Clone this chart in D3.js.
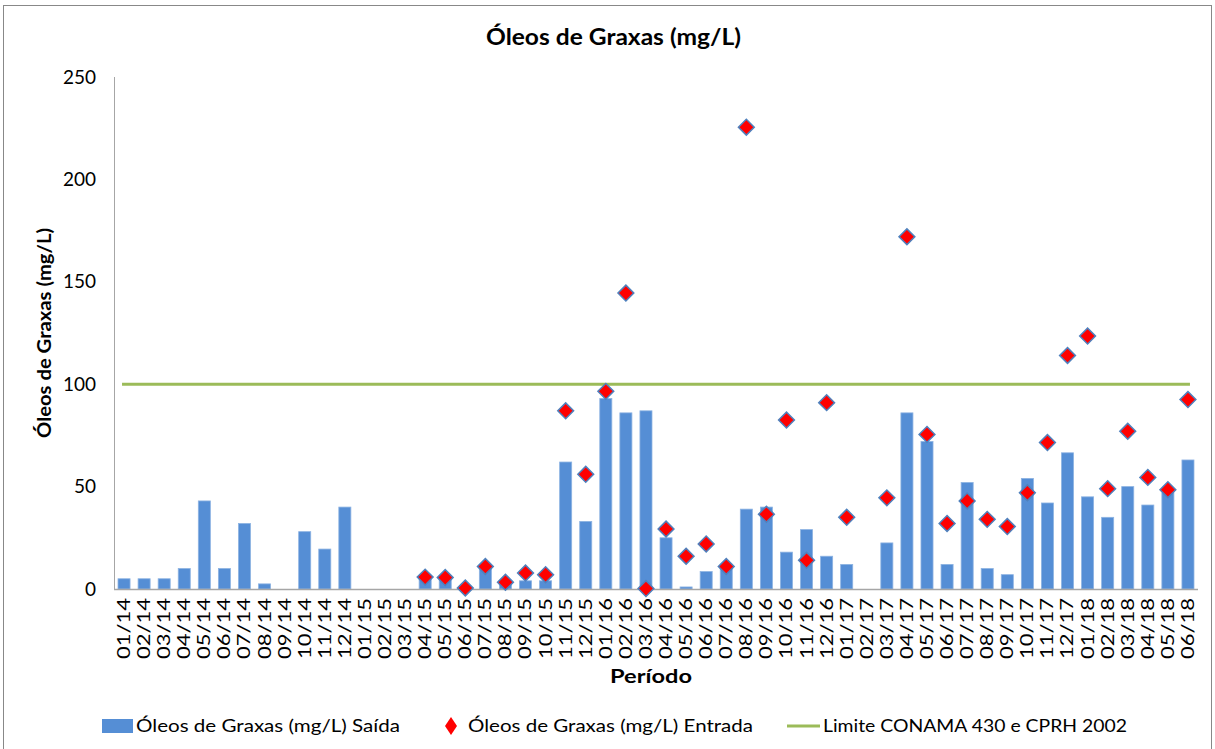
<!DOCTYPE html>
<meta charset="utf-8">
<script src="https://d3js.org/d3.v7.min.js"></script>
<style>
    body { margin: 0; background: #fff; font-family: Lato, "Liberation Sans", sans-serif; }
    svg text { fill: #000; }
</style>
<div id="viz_area"></div>
<script>
    // períodos (mês/ano)
    var periodos = ["01/14","02/14","03/14","04/14","05/14","06/14","07/14","08/14","09/14","10/14","11/14","12/14",
        "01/15","02/15","03/15","04/15","05/15","06/15","07/15","08/15","09/15","10/15","11/15","12/15",
        "01/16","02/16","03/16","04/16","05/16","06/16","07/16","08/16","09/16","10/16","11/16","12/16",
        "01/17","02/17","03/17","04/17","05/17","06/17","07/17","08/17","09/17","10/17","11/17","12/17",
        "01/18","02/18","03/18","04/18","05/18","06/18"]

    var saida = [5, 5, 5, 10, 43, 10, 32, 2.5, null, 28, 19.5, 40,
        null, null, null, 5, 5, null, 10, 2, 4, 4, 62, 33,
        93, 86, 87, 25, 1, 8.5, 10, 39, 40, 18, 29, 16,
        12, null, 22.5, 86, 72, 12, 52, 10, 7, 54, 42, 66.5,
        45, 35, 50, 41, 47, 63]

    var entrada = [null, null, null, null, null, null, null, null, null, null, null, null,
        null, null, null, 5.8, 5.6, 0.5, 11, 3.3, 7.8, 7, 87, 56,
        96.5, 144.5, 0.2, 29.3, 16, 22, 11, 225.5, 36.5, 82.5, 14, 91,
        35, null, 44.5, 172, 75.5, 32, 43, 34, 30.5, 47, 71.5, 114,
        123.5, 49, 77, 54.5, 48.5, 92.5]

    var limite = 100
    var yTicks = [0, 50, 100, 150, 200, 250]

    var W = 1215, H = 749
    var svg = d3.select("#viz_area").append("svg")
        .attr("width", W)
        .attr("height", H)

    // moldura do gráfico
    svg.append("rect")
        .attr("x", 3.5).attr("y", 5.5)
        .attr("width", 1208).attr("height", 760)
        .attr("fill", "none")
        .attr("stroke", "#888")
        .attr("stroke-width", 1)

    var x = d3.scaleBand()
        .domain(periodos)
        .range([114, 1198])
        .paddingInner(0.4)
        .paddingOuter(0.2)

    var y = d3.scaleLinear()
        .domain([0, 250])
        .range([589, 77])

    // eixo y
    svg.append("line")
        .attr("x1", 114.5).attr("x2", 114.5)
        .attr("y1", y(250)).attr("y2", y(0))
        .attr("stroke", "#a6a6a6")

    svg.append("g")
        .attr("transform", "translate(114,0)")
        .call(d3.axisLeft(y).tickValues(yTicks).tickSize(0).tickPadding(18))
        .call(function(g) { g.select(".domain").remove() })
        .selectAll("text")
        .attr("font-family", "Lato, sans-serif")
        .attr("font-size", "19px")
        .attr("fill", "#000")

    // barras (saída)
    svg.append("g").selectAll("rect")
        .data(periodos.map(function(p, i) { return {p: p, v: saida[i]} })
            .filter(function(d) { return d.v != null }))
        .enter().append("rect")
        .attr("x", function(d) { return x(d.p) })
        .attr("width", x.bandwidth())
        .attr("y", function(d) { return y(d.v) })
        .attr("height", function(d) { return y(0) - y(d.v) })
        .attr("fill", "#558ed5")
        .attr("stroke", "#8db3e2")
        .attr("stroke-width", 0.8)

    // eixo x
    svg.append("line")
        .attr("x1", 114).attr("x2", 1198)
        .attr("y1", y(0) + 0.5).attr("y2", y(0) + 0.5)
        .attr("stroke", "#a6a6a6")
        .attr("stroke-width", 1.5)

    svg.append("g")
        .attr("transform", "translate(0," + y(0) + ")")
        .call(d3.axisBottom(x).tickSize(0).tickPadding(0))
        .call(function(g) { g.select(".domain").remove() })
        .selectAll("text")
        .attr("font-family", "Lato, sans-serif")
        .attr("font-size", "17px")
        .attr("fill", "#000")
        .attr("text-anchor", "end")
        .attr("dy", "0.35em")
        .attr("textLength", 61)
        .attr("lengthAdjust", "spacingAndGlyphs")
        .attr("transform", "translate(0,9) rotate(-90)")
        .attr("y", 0)
        .attr("x", 0)

    // linha limite
    var c0 = x(periodos[0]) + x.bandwidth() / 2 - 2
    var c1 = x(periodos[periodos.length - 1]) + x.bandwidth() / 2 + 2
    svg.append("line")
        .attr("x1", c0).attr("x2", c1)
        .attr("y1", y(limite)).attr("y2", y(limite))
        .attr("stroke", "#9bbb59")
        .attr("stroke-width", 3)

    // pontos (entrada)
    var diamond = d3.symbol().type(d3.symbolSquare).size(125)
    svg.append("g").selectAll("path")
        .data(periodos.map(function(p, i) { return {p: p, v: entrada[i]} })
            .filter(function(d) { return d.v != null }))
        .enter().append("path")
        .attr("d", diamond)
        .attr("transform", function(d) {
            return "translate(" + (x(d.p) + x.bandwidth() / 2) + "," + y(d.v) + ") rotate(45)"
        })
        .attr("fill", "#ff0000")
        .attr("stroke", "#4f81bd")
        .attr("stroke-width", 1.5)

    // títulos
    svg.append("text")
        .attr("x", 486).attr("y", 45)
        .attr("font-size", "22px")
        .attr("font-weight", "bold")
        .attr("textLength", 255)
        .attr("lengthAdjust", "spacingAndGlyphs")
        .text("Óleos de Graxas (mg/L)")

    svg.append("text")
        .attr("transform", "translate(51,438) rotate(-90)")
        .attr("font-size", "18px")
        .attr("font-weight", "bold")
        .attr("textLength", 210)
        .attr("lengthAdjust", "spacingAndGlyphs")
        .text("Óleos de Graxas (mg/L)")

    svg.append("text")
        .attr("x", 610).attr("y", 683)
        .attr("font-size", "18px")
        .attr("font-weight", "bold")
        .attr("textLength", 82)
        .attr("lengthAdjust", "spacingAndGlyphs")
        .text("Período")

    // legenda
    var leg = svg.append("g").attr("font-size", "18px")
    leg.append("rect")
        .attr("x", 102).attr("y", 719)
        .attr("width", 31).attr("height", 14)
        .attr("fill", "#558ed5")
    leg.append("text").attr("x", 136).attr("y", 732)
        .attr("textLength", 264).attr("lengthAdjust", "spacingAndGlyphs")
        .text("Óleos de Graxas (mg/L) Saída")

    leg.append("path")
        .attr("d", "M451,717L457,726L451,735L445,726Z")
        .attr("fill", "#ff0000")
    leg.append("text").attr("x", 468).attr("y", 732)
        .attr("textLength", 285).attr("lengthAdjust", "spacingAndGlyphs")
        .text("Óleos de Graxas (mg/L) Entrada")

    leg.append("line")
        .attr("x1", 787).attr("x2", 820)
        .attr("y1", 726).attr("y2", 726)
        .attr("stroke", "#9bbb59")
        .attr("stroke-width", 3)
    leg.append("text").attr("x", 823).attr("y", 732)
        .attr("textLength", 304).attr("lengthAdjust", "spacingAndGlyphs")
        .text("Limite CONAMA 430 e CPRH 2002")
</script>
